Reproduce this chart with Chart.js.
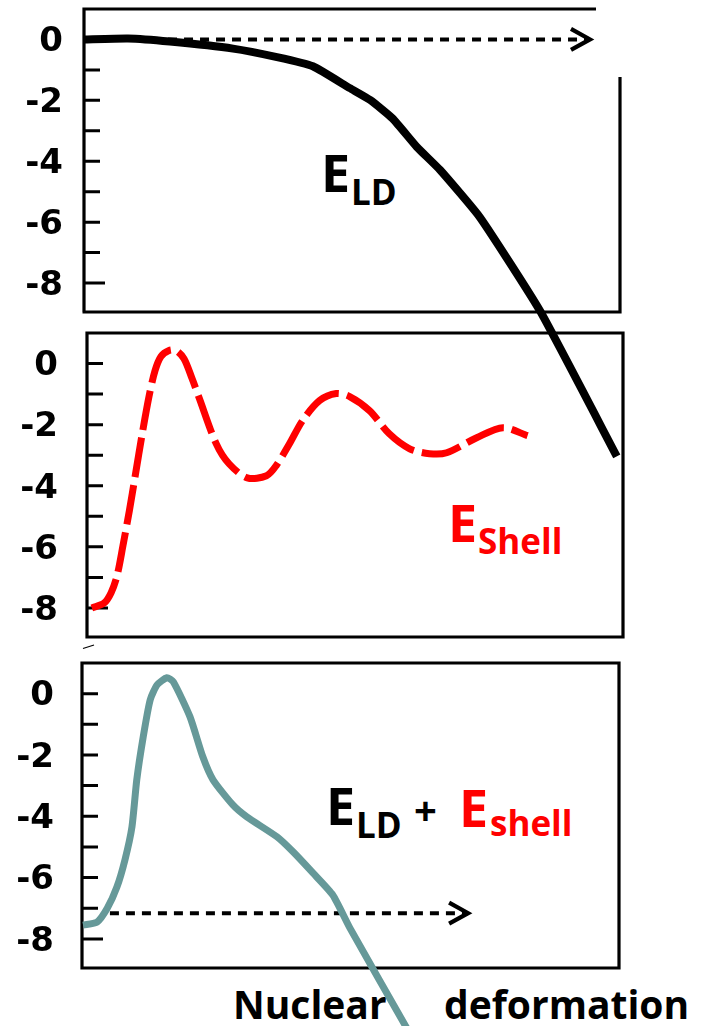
<!DOCTYPE html>
<html><head><meta charset="utf-8">
<script src="https://cdn.jsdelivr.net/npm/chart.js@4.4.1/dist/chart.umd.min.js"></script>
<style>
html,body{margin:0;padding:0;background:#fff;width:702px;height:1026px;overflow:hidden;}
canvas{position:absolute;left:0;top:0;}
.t{position:absolute;white-space:nowrap;font-family:'Open Sans',sans-serif;font-weight:700;line-height:1;}
</style></head><body>
<div class="t" style="left:321px;top:146px;font-size:52px;color:#000">E</div>
<div class="t" style="left:351px;top:174px;font-size:35px;color:#000">LD</div>
<div class="t" style="left:448px;top:496px;font-size:52px;color:#f00">E</div>
<div class="t" style="left:478px;top:523px;font-size:35px;color:#f00">Shell</div>
<div class="t" style="left:326px;top:779px;font-size:52px;color:#000">E</div>
<div class="t" style="left:356px;top:807px;font-size:35px;color:#000">LD</div>
<div class="t" style="left:414px;top:790px;font-size:40px;color:#000">+</div>
<div class="t" style="left:459px;top:781px;font-size:52px;color:#f00">E</div>
<div class="t" style="left:490px;top:805px;font-size:35px;color:#f00">shell</div>
<div class="t" style="left:233px;top:984px;font-size:39px;color:#000">Nuclear</div>
<div class="t" style="left:444px;top:984px;font-size:39px;color:#000">deformation</div>
<canvas id="c1" width="702" height="1026"></canvas>
<canvas id="c2" width="702" height="1026"></canvas>
<canvas id="c3" width="702" height="1026"></canvas>
<script>
// ---- data (x: nuclear deformation, 0..100 across each panel; y: energy) ----
const tickValues = [0, -2, -4, -6, -8];
const tickLabels = ['0', '-2', '-4', '-6', '-8'];

const xLD = [0, 8.2, 16.0, 27.8, 36.0, 42.7, 49.6, 53.4, 57.6, 62.1, 66.4, 73.9, 85.1, 99.4];
const yLD = [0, 0.03, -0.07, -0.3, -0.58, -0.88, -1.6, -1.99, -2.6, -3.53, -4.28, -5.85, -8.92, -13.69];

const xShell = [0.9, 3.2, 4.5, 5.6, 6.7, 7.9, 9.0, 10.3, 11.6, 12.7, 13.8, 15.3, 16.6, 18.1, 19.6, 20.9, 24.1, 26.5, 29.9, 33.5, 35.3, 37.8, 40.2, 43.4, 46.5, 49.0, 52.7, 56.4, 60.2, 63.9, 67.1, 72.7, 77.6, 82.2];
const yShell = [-8.0, -7.84, -7.5, -6.95, -5.97, -4.82, -3.67, -2.30, -1.05, -0.23, 0.23, 0.43, 0.43, 0.16, -0.49, -1.11, -2.62, -3.28, -3.74, -3.67, -3.34, -2.62, -1.87, -1.21, -0.98, -1.08, -1.54, -2.3, -2.79, -2.95, -2.92, -2.43, -2.1, -2.36];

const xSum = [0.2, 2.8, 4.7, 6.5, 8.0, 9.3, 10.2, 11.4, 12.7, 14.0, 15.8, 17.0, 20.1, 22.5, 24.4, 28.1, 30.7, 36.3, 39.3, 43.0, 46.7, 49.9, 60.7];
const ySum = [-7.55, -7.45, -7.0, -6.31, -5.42, -4.35, -2.81, -1.41, -0.2, 0.29, 0.52, 0.39, -0.75, -2.06, -2.81, -3.63, -4.02, -4.67, -5.16, -5.85, -6.57, -7.65, -10.98];

const xArrowTop = [0.75, 94.4];
const yArrowTop = [0, 0];
const xArrowBottom = [5.2, 71.9];
const yArrowBottom = [-7.16, -7.16];

const zip = (xs, ys) => xs.map((x, i) => ({x, y: ys[i]}));

function makePanel(id, box, labelPad, datasets, frameMode, extra) {
  const framePlugin = {
    id: 'frame' + id,
    beforeDatasetsDraw(chart) {
      const c = chart.ctx, a = chart.chartArea, ys = chart.scales.y;
      c.save();
      c.strokeStyle = '#000';
      c.lineWidth = 3.2;
      c.lineCap = 'butt';
      c.beginPath();
      if (frameMode === 'open') {
        c.moveTo(a.left, a.bottom); c.lineTo(a.left, a.top); c.lineTo(596, a.top);
        c.moveTo(a.left - 1.5, a.bottom); c.lineTo(a.right, a.bottom); c.lineTo(a.right, 77);
      } else {
        c.rect(a.left, a.top, a.right - a.left, a.bottom - a.top);
      }
      c.stroke();
      // inner tick marks
      c.lineWidth = 3;
      c.beginPath();
      ys.ticks.forEach(t => {
        if (t.value > 0) return;
        const py = ys.getPixelForValue(t.value);
        const len = t.value === -8 ? 21 : 16;
        c.moveTo(a.left, py); c.lineTo(a.left + len, py);
      });
      c.stroke();
      if (extra) extra(c);
      c.restore();
    },
    afterDatasetsDraw(chart) {
      const c = chart.ctx;
      chart.data.datasets.forEach((ds, i) => {
        if (!ds.arrow) return;
        const pts = chart.getDatasetMeta(i).data;
        const p = pts[pts.length - 1];
        c.save();
        c.strokeStyle = '#000';
        c.lineWidth = 4.2;
        c.lineJoin = 'miter';
        c.beginPath();
        c.moveTo(p.x - 19, p.y - 10.5); c.lineTo(p.x, p.y); c.lineTo(p.x - 19, p.y + 10.5);
        c.stroke();
        c.restore();
      });
    }
  };
  return new Chart(document.getElementById(id), {
    type: 'line',
    data: {datasets},
    options: {
      responsive: false, animation: false, devicePixelRatio: 1,
      layout: {autoPadding: false, padding: {left: 0, top: box.top, right: 702 - box.right, bottom: 1026 - box.bottom}},
      plugins: {legend: {display: false}, tooltip: {enabled: false}},
      elements: {point: {radius: 0}},
      scales: {
        x: {type: 'linear', min: 0, max: 100, display: false},
        y: {
          type: 'linear', min: -8.95, max: 1,
          afterFit: s => { s.width = box.left; s.paddingTop = 0; s.paddingBottom = 0; },
          grid: {display: false, drawTicks: false},
          border: {display: false},
          ticks: {
            stepSize: 1, includeBounds: false, autoSkip: false, padding: labelPad, labelOffset: 3,
            color: '#000', font: {family: 'DejaVu Sans', weight: 'bold', size: 34},
            callback: v => { const i = tickValues.indexOf(v); return i >= 0 ? tickLabels[i] : ''; }
          }
        }
      }
    },
    plugins: [framePlugin]
  });
}

makePanel('c1', {left: 84, top: 9, right: 620, bottom: 312}, 21, [
  {data: zip(xLD, yLD), borderColor: '#000', borderWidth: 8, tension: 0.15, clip: false, borderCapStyle: 'butt', order: 0},
  {data: zip(xArrowTop, yArrowTop), borderColor: '#000', borderWidth: 4, borderDash: [9, 7], arrow: true, clip: false, order: 1}
], 'open');

makePanel('c2', {left: 87, top: 333, right: 623, bottom: 637}, 29, [
  {data: zip(xShell, yShell), borderColor: '#ff0000', borderWidth: 7, tension: 0.3, borderDash: [40, 8], borderCapStyle: 'butt', clip: false}
], 'box', c => { c.lineWidth = 1.2; c.beginPath(); c.moveTo(83, 648.5); c.lineTo(94, 645); c.stroke(); });

makePanel('c3', {left: 82, top: 663, right: 619, bottom: 968}, 28, [
  {data: zip(xSum, ySum), borderColor: '#669999', borderWidth: 7, tension: 0.2, clip: false, borderCapStyle: 'butt', order: 0},
  {data: zip(xArrowBottom, yArrowBottom), borderColor: '#000', borderWidth: 4, borderDash: [9, 7], arrow: true, clip: false, order: 1}
], 'box');
</script>
</body></html>
